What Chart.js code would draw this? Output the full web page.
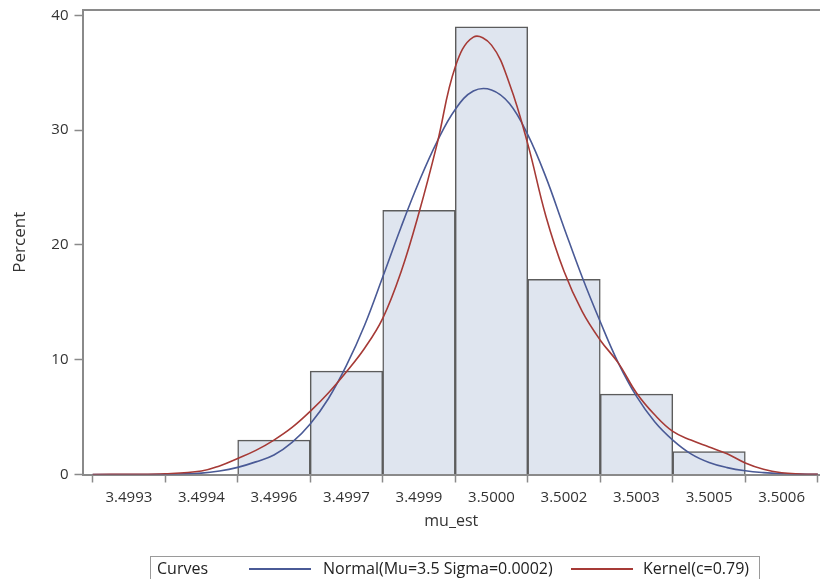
<!DOCTYPE html>
<html>
<head>
<meta charset="utf-8">
<script src="https://cdn.jsdelivr.net/npm/chart.js@4"></script>
<style>
  html, body { margin: 0; padding: 0; background: #fff; }
  #wrap { position: relative; width: 820px; height: 579px; overflow: hidden; }
  #legend {
    position: absolute; left: 150px; top: 556px; width: 610px; height: 26px;
    border: 1px solid #9a9a9a; box-sizing: border-box;
    font: 16px "Open Sans", sans-serif; color: #222;
  }
  #legend span { position: absolute; top: 0; white-space: nowrap; }
  #legend i { position: absolute; top: 11px; height: 0; border-top: 2px solid; }
</style>
</head>
<body>
<div id="wrap">
  <canvas id="hist" width="820" height="579"></canvas>
  <div id="legend">
    <span style="left:6px">Curves</span>
    <i style="left:98px;width:62px;border-color:#4a5a96"></i>
    <span style="left:172px">Normal(Mu=3.5 Sigma=0.0002)</span>
    <i style="left:420px;width:62px;border-color:#a63a36"></i>
    <span style="left:492px">Kernel(c=0.79)</span>
  </div>
</div>
<script>
// x positions are tick indexes (bin midpoints), labels come from tickLabels
const tickLabels = ["3.4993", "3.4994", "3.4996", "3.4997", "3.4999", "3.5000", "3.5002", "3.5003", "3.5005", "3.5006"];
const yTicks = [0, 10, 20, 30, 40];

const binPos = [2, 3, 4, 5, 6, 7, 8];
const binPercent = [3, 9, 23, 39, 17, 7, 2];

const curveX = [-0.5, 0, 0.5, 1, 1.25, 1.5, 1.75, 2, 2.25, 2.5, 2.75, 3, 3.25, 3.5, 3.75, 4, 4.25, 4.5, 4.75, 5,
  5.25, 5.5, 5.75, 6, 6.25, 6.5, 6.75, 7, 7.25, 7.5, 7.75, 8, 8.25, 8.5, 8.75, 9, 9.25, 9.5];
const normalY = [0, 0, 0.01, 0.12, 0.3, 0.62, 1.1, 1.7, 2.8, 4.4, 6.6, 9.5, 13.0, 17.2, 21.5, 25.5, 29.0, 31.8, 33.4, 33.5,
  32.3, 29.6, 25.9, 21.5, 17.2, 13.3, 9.7, 6.8, 4.6, 3.0, 1.8, 1.05, 0.6, 0.32, 0.16, 0.07, 0.03, 0.01];
const kernelY = [0, 0.02, 0.06, 0.3, 0.75, 1.4, 2.1, 3.0, 4.1, 5.5, 7.1, 8.95, 11.0, 13.6, 17.6, 22.8, 28.8, 35.5, 38.1, 37.4,
  34.0, 28.8, 22.5, 17.7, 14.2, 11.7, 9.7, 7.1, 5.2, 3.75, 3.0, 2.4, 1.8, 1.0, 0.45, 0.15, 0.05, 0.02];

const axisColor = "#8a8a8a";
const font = { family: "'Open Sans', sans-serif", size: 15 };

const frameTop = {
  id: "frameTop",
  afterDraw(c) {
    const { ctx, chartArea: a } = c;
    ctx.save();
    ctx.strokeStyle = axisColor;
    ctx.lineWidth = 2;
    ctx.beginPath();
    ctx.moveTo(a.left, a.top);
    ctx.lineTo(a.right, a.top);
    ctx.stroke();
    ctx.restore();
  }
};

const pts = (xs, ys) => xs.map((x, i) => ({ x, y: ys[i] }));

new Chart(document.getElementById("hist"), {
  type: "bar",
  data: {
    datasets: [
      {
        type: "line", label: "Normal", data: pts(curveX, normalY),
        borderColor: "#4a5a96", borderWidth: 1.6, pointRadius: 0, tension: 0.4, order: 1
      },
      {
        type: "line", label: "Kernel", data: pts(curveX, kernelY),
        borderColor: "#a63a36", borderWidth: 1.6, pointRadius: 0, tension: 0.4, order: 0
      },
      {
        label: "Percent", data: pts(binPos, binPercent),
        backgroundColor: "#dfe5ef", borderColor: "#5c5c5c", borderWidth: 1.5,
        barPercentage: 1, categoryPercentage: 1, order: 2
      }
    ]
  },
  options: {
    responsive: false,
    animation: false,
    layout: { padding: { top: 10, right: 0, bottom: 44, left: 0 } },
    plugins: { legend: { display: false }, tooltip: { enabled: false } },
    scales: {
      x: {
        type: "linear", min: -0.64, max: 9.53, offset: false,
        afterBuildTicks: (s) => { s.ticks = tickLabels.map((_, i) => ({ value: i })); },
        afterFit: (s) => { s.height = 60.5; s.paddingLeft = 0; s.paddingRight = 0; },
        ticks: { callback: (v) => tickLabels[v], color: "#333", font, padding: 6, maxRotation: 0, autoSkip: false },
        grid: { drawOnChartArea: false, tickLength: 8, tickColor: axisColor, tickWidth: 1.5 },
        border: { color: axisColor, width: 2 },
        title: { display: true, text: "mu_est", color: "#333", font: { ...font, size: 16 }, padding: { top: 0, bottom: 4 } }
      },
      y: {
        min: 0, max: 40.46,
        afterBuildTicks: (s) => { s.ticks = yTicks.map((v) => ({ value: v })); },
        afterFit: (s) => { s.width = 82.5; s.paddingTop = 0; s.paddingBottom = 0; },
        ticks: { color: "#333", font, padding: 6 },
        grid: { drawOnChartArea: false, tickLength: 8, tickColor: axisColor, tickWidth: 1.5 },
        border: { color: axisColor, width: 2 },
        title: { display: true, text: "Percent", color: "#333", font: { ...font, size: 17 }, padding: { top: 10, bottom: 0 } }
      }
    }
  },
  plugins: [frameTop]
});
</script>
</body>
</html>
